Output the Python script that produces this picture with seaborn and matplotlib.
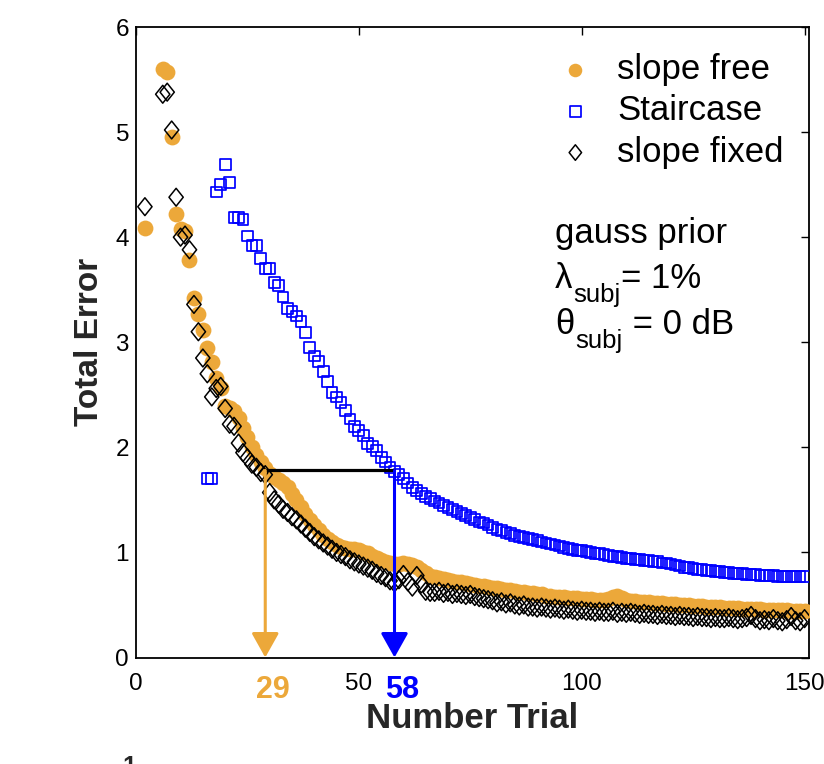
import numpy as np
import pandas as pd
import matplotlib
matplotlib.use("Agg")
import matplotlib.pyplot as plt
import seaborn as sns
from matplotlib.path import Path

# ---------------- data ----------------
trials_free = [2] + list(range(6, 151))
err_free = [4.09,
    5.60, 5.57, 4.95, 4.22, 4.08,
    4.06, 3.78, 3.42, 3.27, 3.12,
    2.95, 2.81, 2.66, 2.56, 2.39,
    2.37, 2.35, 2.28, 2.18, 2.10,
    2.00, 1.93, 1.86, 1.80, 1.75,
    1.72, 1.69, 1.66, 1.62, 1.56,
    1.50, 1.43, 1.37, 1.31, 1.26,
    1.21, 1.17, 1.13, 1.10, 1.07,
    1.05, 1.04, 1.03, 1.03, 1.02,
    1.00, 0.99, 0.97, 0.95, 0.93,
    0.91, 0.90, 0.89, 0.89, 0.90,
    0.89, 0.88, 0.86, 0.83, 0.80,
    0.78, 0.77, 0.76, 0.75, 0.74,
    0.73, 0.72, 0.72, 0.71, 0.70,
    0.69, 0.68, 0.68, 0.67, 0.66,
    0.66, 0.65, 0.64, 0.64, 0.63,
    0.62, 0.62, 0.61, 0.61, 0.60,
    0.60, 0.59, 0.59, 0.58, 0.58,
    0.58, 0.57, 0.57, 0.57, 0.56,
    0.56, 0.56, 0.55, 0.55, 0.55,
    0.56, 0.58, 0.59, 0.57, 0.55,
    0.54, 0.54, 0.53, 0.53, 0.53,
    0.52, 0.52, 0.52, 0.51, 0.51,
    0.51, 0.50, 0.50, 0.50, 0.49,
    0.49, 0.49, 0.48, 0.48, 0.48,
    0.48, 0.47, 0.47, 0.47, 0.47,
    0.46, 0.46, 0.46, 0.46, 0.46,
    0.45, 0.45, 0.45, 0.45, 0.45,
    0.45, 0.44, 0.44, 0.44, 0.44]

trials_fixed = [2] + list(range(6, 151))
err_fixed = [4.29,
    5.36, 5.38, 5.02, 4.38, 4.00,
    4.02, 3.88, 3.36, 3.10, 2.85,
    2.70, 2.48, 2.56, 2.58, 2.37,
    2.22, 2.20, 2.04, 1.95, 1.90,
    1.84, 1.81, 1.76, 1.74, 1.57,
    1.50, 1.46, 1.41, 1.38, 1.34,
    1.31, 1.27, 1.23, 1.19, 1.15,
    1.12, 1.09, 1.06, 1.03, 1.00,
    0.98, 0.96, 0.93, 0.91, 0.89,
    0.87, 0.85, 0.83, 0.80, 0.78,
    0.76, 0.73, 0.71, 0.74, 0.79,
    0.72, 0.67, 0.78, 0.70, 0.63,
    0.62, 0.62, 0.63, 0.61, 0.62,
    0.60, 0.61, 0.60, 0.59, 0.60,
    0.58, 0.57, 0.56, 0.55, 0.54,
    0.52, 0.53, 0.51, 0.52, 0.50,
    0.49, 0.50, 0.48, 0.48, 0.47,
    0.48, 0.47, 0.46, 0.47, 0.46,
    0.45, 0.46, 0.45, 0.44, 0.45,
    0.44, 0.44, 0.43, 0.44, 0.43,
    0.43, 0.44, 0.42, 0.43, 0.42,
    0.43, 0.42, 0.41, 0.42, 0.41,
    0.41, 0.40, 0.41, 0.40, 0.40,
    0.39, 0.40, 0.39, 0.39, 0.38,
    0.39, 0.38, 0.38, 0.37, 0.38,
    0.37, 0.37, 0.38, 0.37, 0.36,
    0.37, 0.38, 0.40, 0.37, 0.35,
    0.36, 0.35, 0.37, 0.35, 0.34,
    0.36, 0.39, 0.35, 0.34, 0.37]

trials_stair = list(range(16, 151))
err_stair = [1.70, 1.70,
    4.43, 4.50, 4.69,
    4.52, 4.19, 4.19, 4.17, 4.01,
    3.92, 3.92, 3.80, 3.70, 3.70,
    3.57, 3.54, 3.43, 3.32, 3.29,
    3.25, 3.20, 3.09, 2.95, 2.87,
    2.82, 2.72, 2.63, 2.52, 2.48,
    2.43, 2.35, 2.27, 2.20, 2.16,
    2.11, 2.04, 2.01, 1.97, 1.90,
    1.86, 1.81, 1.77, 1.74, 1.70,
    1.66, 1.62, 1.59, 1.56, 1.53,
    1.51, 1.49, 1.47, 1.45, 1.43,
    1.41, 1.39, 1.37, 1.35, 1.33,
    1.31, 1.29, 1.28, 1.26, 1.24,
    1.22, 1.21, 1.19, 1.18, 1.16,
    1.15, 1.14, 1.13, 1.12, 1.11,
    1.10, 1.09, 1.08, 1.07, 1.06,
    1.05, 1.04, 1.03, 1.02, 1.02,
    1.01, 1.00, 0.99, 0.99, 0.98,
    0.97, 0.96, 0.96, 0.95, 0.94,
    0.94, 0.93, 0.93, 0.92, 0.92,
    0.91, 0.91, 0.90, 0.90, 0.89,
    0.88, 0.87, 0.86, 0.86, 0.85,
    0.84, 0.84, 0.83, 0.83, 0.82,
    0.82, 0.81, 0.81, 0.80, 0.80,
    0.80, 0.79, 0.79, 0.79, 0.78,
    0.78, 0.78, 0.78, 0.77, 0.77,
    0.77, 0.77, 0.77, 0.77, 0.77]

series_labels = ["slope free", "Staircase", "slope fixed"]
threshold_trials = [29, 58]      # slope free, Staircase
threshold_level = 1.78
x_ticks = [0, 50, 100, 150]
y_ticks = [0, 1, 2, 3, 4, 5, 6]
info_title = "gauss prior"
info_params = [("λ", "subj", "= 1%"), ("θ", "subj", " = 0 dB")]

# ---------------- style ----------------
ORANGE = "#ECA83A"
BLUE = "#0000FF"
BLACK = "#000000"

sns.set_theme(style="white")
plt.rcParams["font.family"] = ["Liberation Sans", "DejaVu Sans"]

W, H = 824, 764
fig = plt.figure(figsize=(W / 100, H / 100), dpi=100)
ax = fig.add_axes([136 / W, 1 - 657.5 / H, (809 - 136) / W, (657.5 - 27) / H])

diamond = Path([(0, 1), (0.8, 0), (0, -1), (-0.8, 0), (0, 1)],
               [Path.MOVETO, Path.LINETO, Path.LINETO, Path.LINETO, Path.CLOSEPOLY])

df_free = pd.DataFrame({"trial": trials_free, "err": err_free})
df_stair = pd.DataFrame({"trial": trials_stair, "err": err_stair})
df_fixed = pd.DataFrame({"trial": trials_fixed, "err": err_fixed})

sns.scatterplot(data=df_free, x="trial", y="err", ax=ax, marker="o", s=130,
                color=ORANGE, linewidth=0, zorder=3, label=series_labels[0])
sns.scatterplot(data=df_stair, x="trial", y="err", ax=ax, marker="s", s=60,
                fc="none", ec=BLUE, linewidth=1.25, zorder=4, label=series_labels[1])
sns.scatterplot(data=df_fixed, x="trial", y="err", ax=ax, marker=diamond, s=165,
                fc="none", ec=BLACK, linewidth=1.1, zorder=5, label=series_labels[2])

ax.set_xlim(0, 151)
ax.set_ylim(0, 6)
ax.set_xticks(x_ticks)
ax.set_yticks(y_ticks)
ax.tick_params(axis="both", direction="in", length=6, width=1.0, colors="black",
               labelsize=17.5, top=True, right=True)
ax.tick_params(axis="x", pad=11.3)
ax.tick_params(axis="y", pad=5)
for sp in ax.spines.values():
    sp.set_color("black")
    sp.set_linewidth(1.3)
ax.set_xlabel("Number Trial", fontsize=25, fontweight="bold", labelpad=5)
ax.set_ylabel("Total Error", fontsize=24, fontweight="bold", labelpad=7.5)
ax.grid(False)

# threshold annotation
ax.plot([threshold_trials[0], threshold_trials[1]], [threshold_level, threshold_level],
        color=BLACK, lw=2.3, zorder=6, solid_capstyle="butt")
for t, c in zip(threshold_trials, [ORANGE, BLUE]):
    ax.annotate("", xy=(t, 0), xytext=(t, threshold_level),
                arrowprops=dict(arrowstyle="-|>,head_length=0.75,head_width=0.42",
                                color=c, lw=2.2, shrinkA=0, shrinkB=0,
                                mutation_scale=20),
                zorder=7, annotation_clip=False)
    ax.annotate(str(t), xy=(t, 0), xycoords="data", xytext=(8, -32),
                textcoords="offset pixels", ha="center", va="center",
                fontsize=22, fontweight="bold", color=c, annotation_clip=False)

# legend
leg = ax.legend(loc="upper left", bbox_to_anchor=(558 / W, 1 - 53 / H),
                bbox_transform=fig.transFigure, frameon=False, fontsize=25,
                handlelength=1.0, handletextpad=0.7, labelspacing=0.24,
                borderpad=0, borderaxespad=0)
for txt in leg.get_texts():
    txt.set_color("black")
for h, s in zip(leg.legend_handles, [95, 60, 125]):
    h.set_sizes([s])

# info text
x0 = 0.6226
ax.text(x0, 0.6574, info_title, transform=ax.transAxes, fontsize=25,
        ha="left", va="baseline", color="black")
fig.canvas.draw()
renderer = fig.canvas.get_renderer()
inv = ax.transAxes.inverted()
for (sym, sub, rest), yy in zip(info_params, [0.586, 0.513]):
    t1 = ax.text(x0, yy, sym, transform=ax.transAxes, fontsize=25,
                 ha="left", va="baseline", color="black")
    e1 = t1.get_window_extent(renderer)
    xs = inv.transform((e1.x1 + 1, 0))[0]
    t2 = ax.text(xs, yy - 14 / 630.5, sub, transform=ax.transAxes, fontsize=18.5,
                 ha="left", va="baseline", color="black")
    e2 = t2.get_window_extent(renderer)
    xr = inv.transform((e2.x1, 0))[0]
    ax.text(xr, yy, rest, transform=ax.transAxes, fontsize=25,
            ha="left", va="baseline", color="black")

# stray partial glyph at bottom edge
fig.text(122 / W, 9 / H, "1", fontsize=18, fontweight="bold", ha="left", va="top")

fig.savefig("out.png", dpi=100)
